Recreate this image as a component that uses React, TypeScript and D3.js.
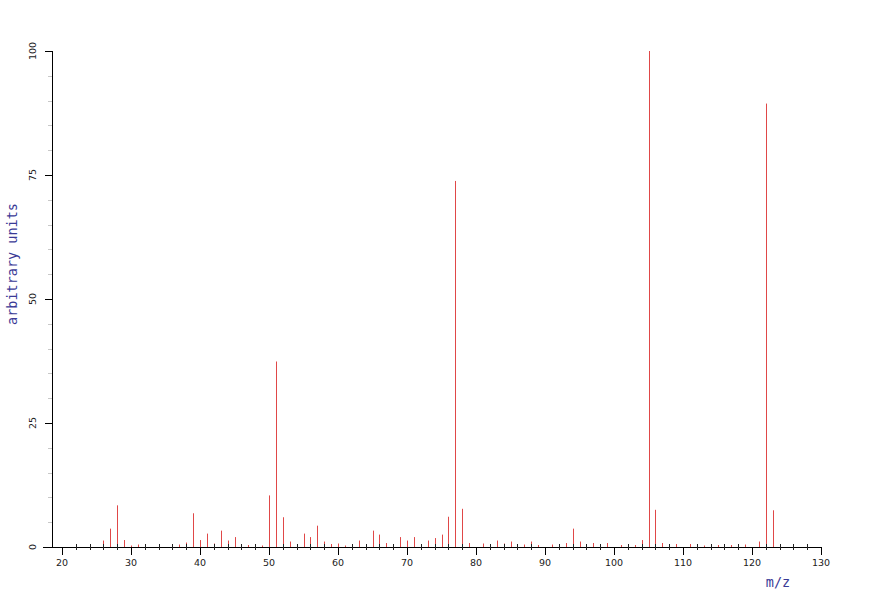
import * as d3 from "d3";

const W = 870;
const H = 589;

// m/z values and relative intensities (%)
const mz = [
  26, 27, 28, 29, 30, 31, 32, 37, 38, 39, 40, 41, 42, 43, 44, 45, 46, 47, 49,
  50, 51, 52, 53, 54, 55, 56, 57, 58, 59, 60, 61, 62, 63, 64, 65, 66, 67, 68,
  69, 70, 71, 72, 73, 74, 75, 76, 77, 78, 79, 81, 82, 83, 84, 85, 86, 87, 88,
  89, 91, 92, 93, 94, 95, 96, 97, 98, 99, 101, 102, 103, 104, 105, 106, 107,
  108, 109, 111, 112, 113, 114, 115, 116, 117, 118, 119, 121, 122, 123,
];
const intensity = [
  1.3, 3.7, 8.4, 1.4, 0.3, 0.5, 0.5, 0.5, 0.9, 6.8, 1.4, 2.7, 0.7, 3.3, 1.3,
  2.0, 0.5, 0.4, 0.3, 10.4, 37.4, 6.0, 1.1, 0.5, 2.7, 2.0, 4.3, 1.1, 0.6, 0.7,
  0.3, 0.5, 1.3, 0.5, 3.3, 2.5, 0.8, 0.5, 2.0, 1.3, 2.0, 0.4, 1.3, 1.8, 2.5,
  6.1, 73.8, 7.7, 0.8, 0.7, 0.5, 1.3, 0.7, 1.1, 0.4, 0.5, 1.1, 0.4, 0.5, 0.5,
  0.8, 3.7, 1.1, 0.5, 0.8, 0.5, 0.8, 0.4, 0.4, 0.4, 1.4, 100, 7.5, 0.8, 0.5,
  0.6, 0.6, 0.5, 0.3, 0.4, 0.4, 0.4, 0.4, 0.4, 0.5, 1.1, 89.4, 7.4,
];

const xMajor = [20, 30, 40, 50, 60, 70, 80, 90, 100, 110, 120, 130];
const yMajor = [0, 25, 50, 75, 100];

const xLabel = "m/z";
const yLabel = "arbitrary units";

const LABEL_BLUE = "#3a3a96";
const PEAK_RED = "#e04848";
const MONO = "'DejaVu Sans Mono', 'Liberation Mono', monospace";
const SANS = "'DejaVu Sans', Verdana, sans-serif";

export default function App() {
  const x = d3.scaleLinear().domain([20, 130]).range([62, 821]);
  const y = d3.scaleLinear().domain([0, 100]).range([547, 51]);
  const x0 = 52; // y axis position
  const y0 = y(0);

  const xMinor = d3.range(20, 131, 2).filter((v) => v % 10 !== 0);
  const yMinor = d3.range(0, 101, 5).filter((v) => v % 25 !== 0);

  const peaks = mz.map((m, i) => ({ m, v: intensity[i] }));
  const px = (v: number) => Math.round(x(v)) + 0.5;
  const py = (v: number) => Math.round(y(v)) + 0.5;

  return (
    <div style={{ position: "fixed", left: 0, top: 0 }}>
      <svg width={W} height={H} style={{ display: "block", background: "#fff" }}>
        {/* peaks */}
        {peaks.map((p) => (
          <line
            key={p.m}
            x1={px(p.m)}
            x2={px(p.m)}
            y1={y0}
            y2={y(p.v)}
            stroke={PEAK_RED}
            strokeWidth={1}
          />
        ))}

        {/* axes */}
        <line x1={43} x2={x(130)} y1={y0 + 0.5} y2={y0 + 0.5} stroke="#000" />
        <line x1={x0 + 0.5} x2={x0 + 0.5} y1={y(100)} y2={y0} stroke="#000" />

        {xMinor.map((v) => (
          <line key={"xm" + v} x1={px(v)} x2={px(v)} y1={y0 - 3} y2={y0 + 3} stroke="#222" />
        ))}
        {xMajor.map((v) => (
          <g key={"xM" + v}>
            <line x1={px(v)} x2={px(v)} y1={y0} y2={y0 + 8} stroke="#000" />
            <text
              x={x(v)}
              y={y0 + 19}
              textAnchor="middle"
              fontFamily={SANS}
              fontSize={9.5}
              fill="#222"
            >
              {v}
            </text>
          </g>
        ))}

        {yMinor.map((v) => (
          <line key={"ym" + v} x1={x0 - 4} x2={x0} y1={py(v)} y2={py(v)} stroke="#c8c8c8" />
        ))}
        {yMajor.map((v) => (
          <g key={"yM" + v}>
            <line x1={x0 - 7} x2={x0} y1={py(v)} y2={py(v)} stroke="#000" />
            <text
              transform={`translate(${x0 - 16},${y(v)}) rotate(-90)`}
              textAnchor="middle"
              fontFamily={SANS}
              fontSize={9.5}
              fill="#222"
            >
              {v}
            </text>
          </g>
        ))}

        {/* axis titles */}
        <text x={778} y={587} textAnchor="middle" fontFamily={MONO} fontSize={13.5} fill={LABEL_BLUE}>
          {xLabel}
        </text>
        <text
          transform={`translate(17,${(y(0) + y(100)) / 2 - 35}) rotate(-90)`}
          textAnchor="middle"
          fontFamily={MONO}
          fontSize={13.5}
          fill={LABEL_BLUE}
        >
          {yLabel}
        </text>
      </svg>
    </div>
  );
}
